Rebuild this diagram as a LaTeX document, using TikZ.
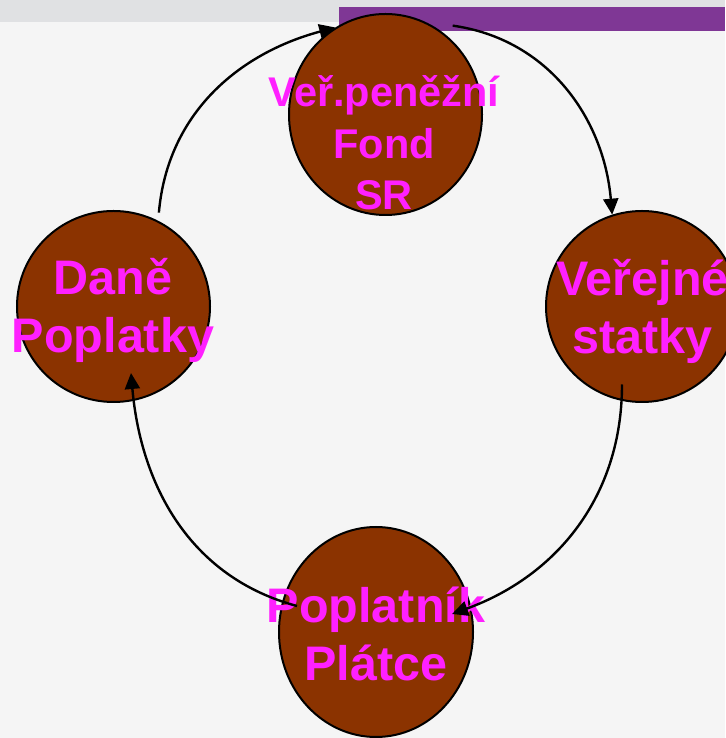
\documentclass[tikz,border=0pt]{standalone}
\usepackage{fontspec}
\setmainfont{Liberation Sans}
\usetikzlibrary{shapes.geometric}
\usetikzlibrary{arrows.meta}
\usetikzlibrary{calc}
\definecolor{pagegray}{RGB}{245,245,245}
\definecolor{bargray}{RGB}{224,225,227}
\definecolor{barpurple}{RGB}{127,55,149}
\definecolor{fundbrown}{RGB}{139,51,0}
\definecolor{fundpink}{RGB}{255,32,255}

\begin{document}
\begin{tikzpicture}[x=1pt,y=1pt,
  fund/.style={ellipse, draw=black, line width=2pt, fill=fundbrown, inner sep=0pt},
  fundtext/.style={text=fundpink, align=center, anchor=base, inner sep=0pt},
  bigfont/.style={font=\fontsize{48.5}{58.5}\selectfont\bfseries},
  smallfont/.style={font=\fontsize{41.5}{51.7}\selectfont\bfseries},
  flow/.style={black, line width=2.4pt, -{Triangle[length=16pt,width=15pt]}}]
\useasboundingbox (0,0) rectangle (725,738);
\fill[pagegray] (0,0) rectangle (725,738);
\fill[bargray] (0,716) rectangle (725,738);
\fill[barpurple] (339,707) rectangle (725,731);
% the four circles
\node[fund, minimum width=193pt, minimum height=201pt] (fond) at (385.5,623.5) {};
\node[fund, minimum width=192pt, minimum height=191pt] (statky) at (642,431.5) {};
\node[fund, minimum width=194pt, minimum height=210pt] (platce) at (376,106) {};
\node[fund, minimum width=193pt, minimum height=191pt] (dane) at (113.5,431.5) {};
% texts (base = last line)
\node[fundtext, smallfont] (fondtext) at (384,528) {Veř.peněžní\\Fond\\SR};
\node[fundtext, bigfont] (statkytext) at (642.5,384) {Veřejné\\statky};
\node[fundtext, bigfont] (platcetext) at (376,57) {Poplatník\\Plátce};
\node[fundtext, bigfont] (danetext) at (113,385) {Daně\\Poplatky};
% the cycle
\draw[flow] ([shift={(3,7)}]dane.64) to[out=85,in=195] (fond.120);
\draw[flow] ([shift={(7,9)}]fond.53) to[out=-8,in=95] (statky.108);
\draw[flow] ([shift={(-20,-78)}]statky.center) to[out=-90,in=20] ([shift={(76,18)}]platce.center);
\draw[flow] ([shift={(-79,26)}]platce.center) to[out=165,in=-85] ([shift={(17.5,-66.5)}]dane.center);
\end{tikzpicture}
\end{document}
